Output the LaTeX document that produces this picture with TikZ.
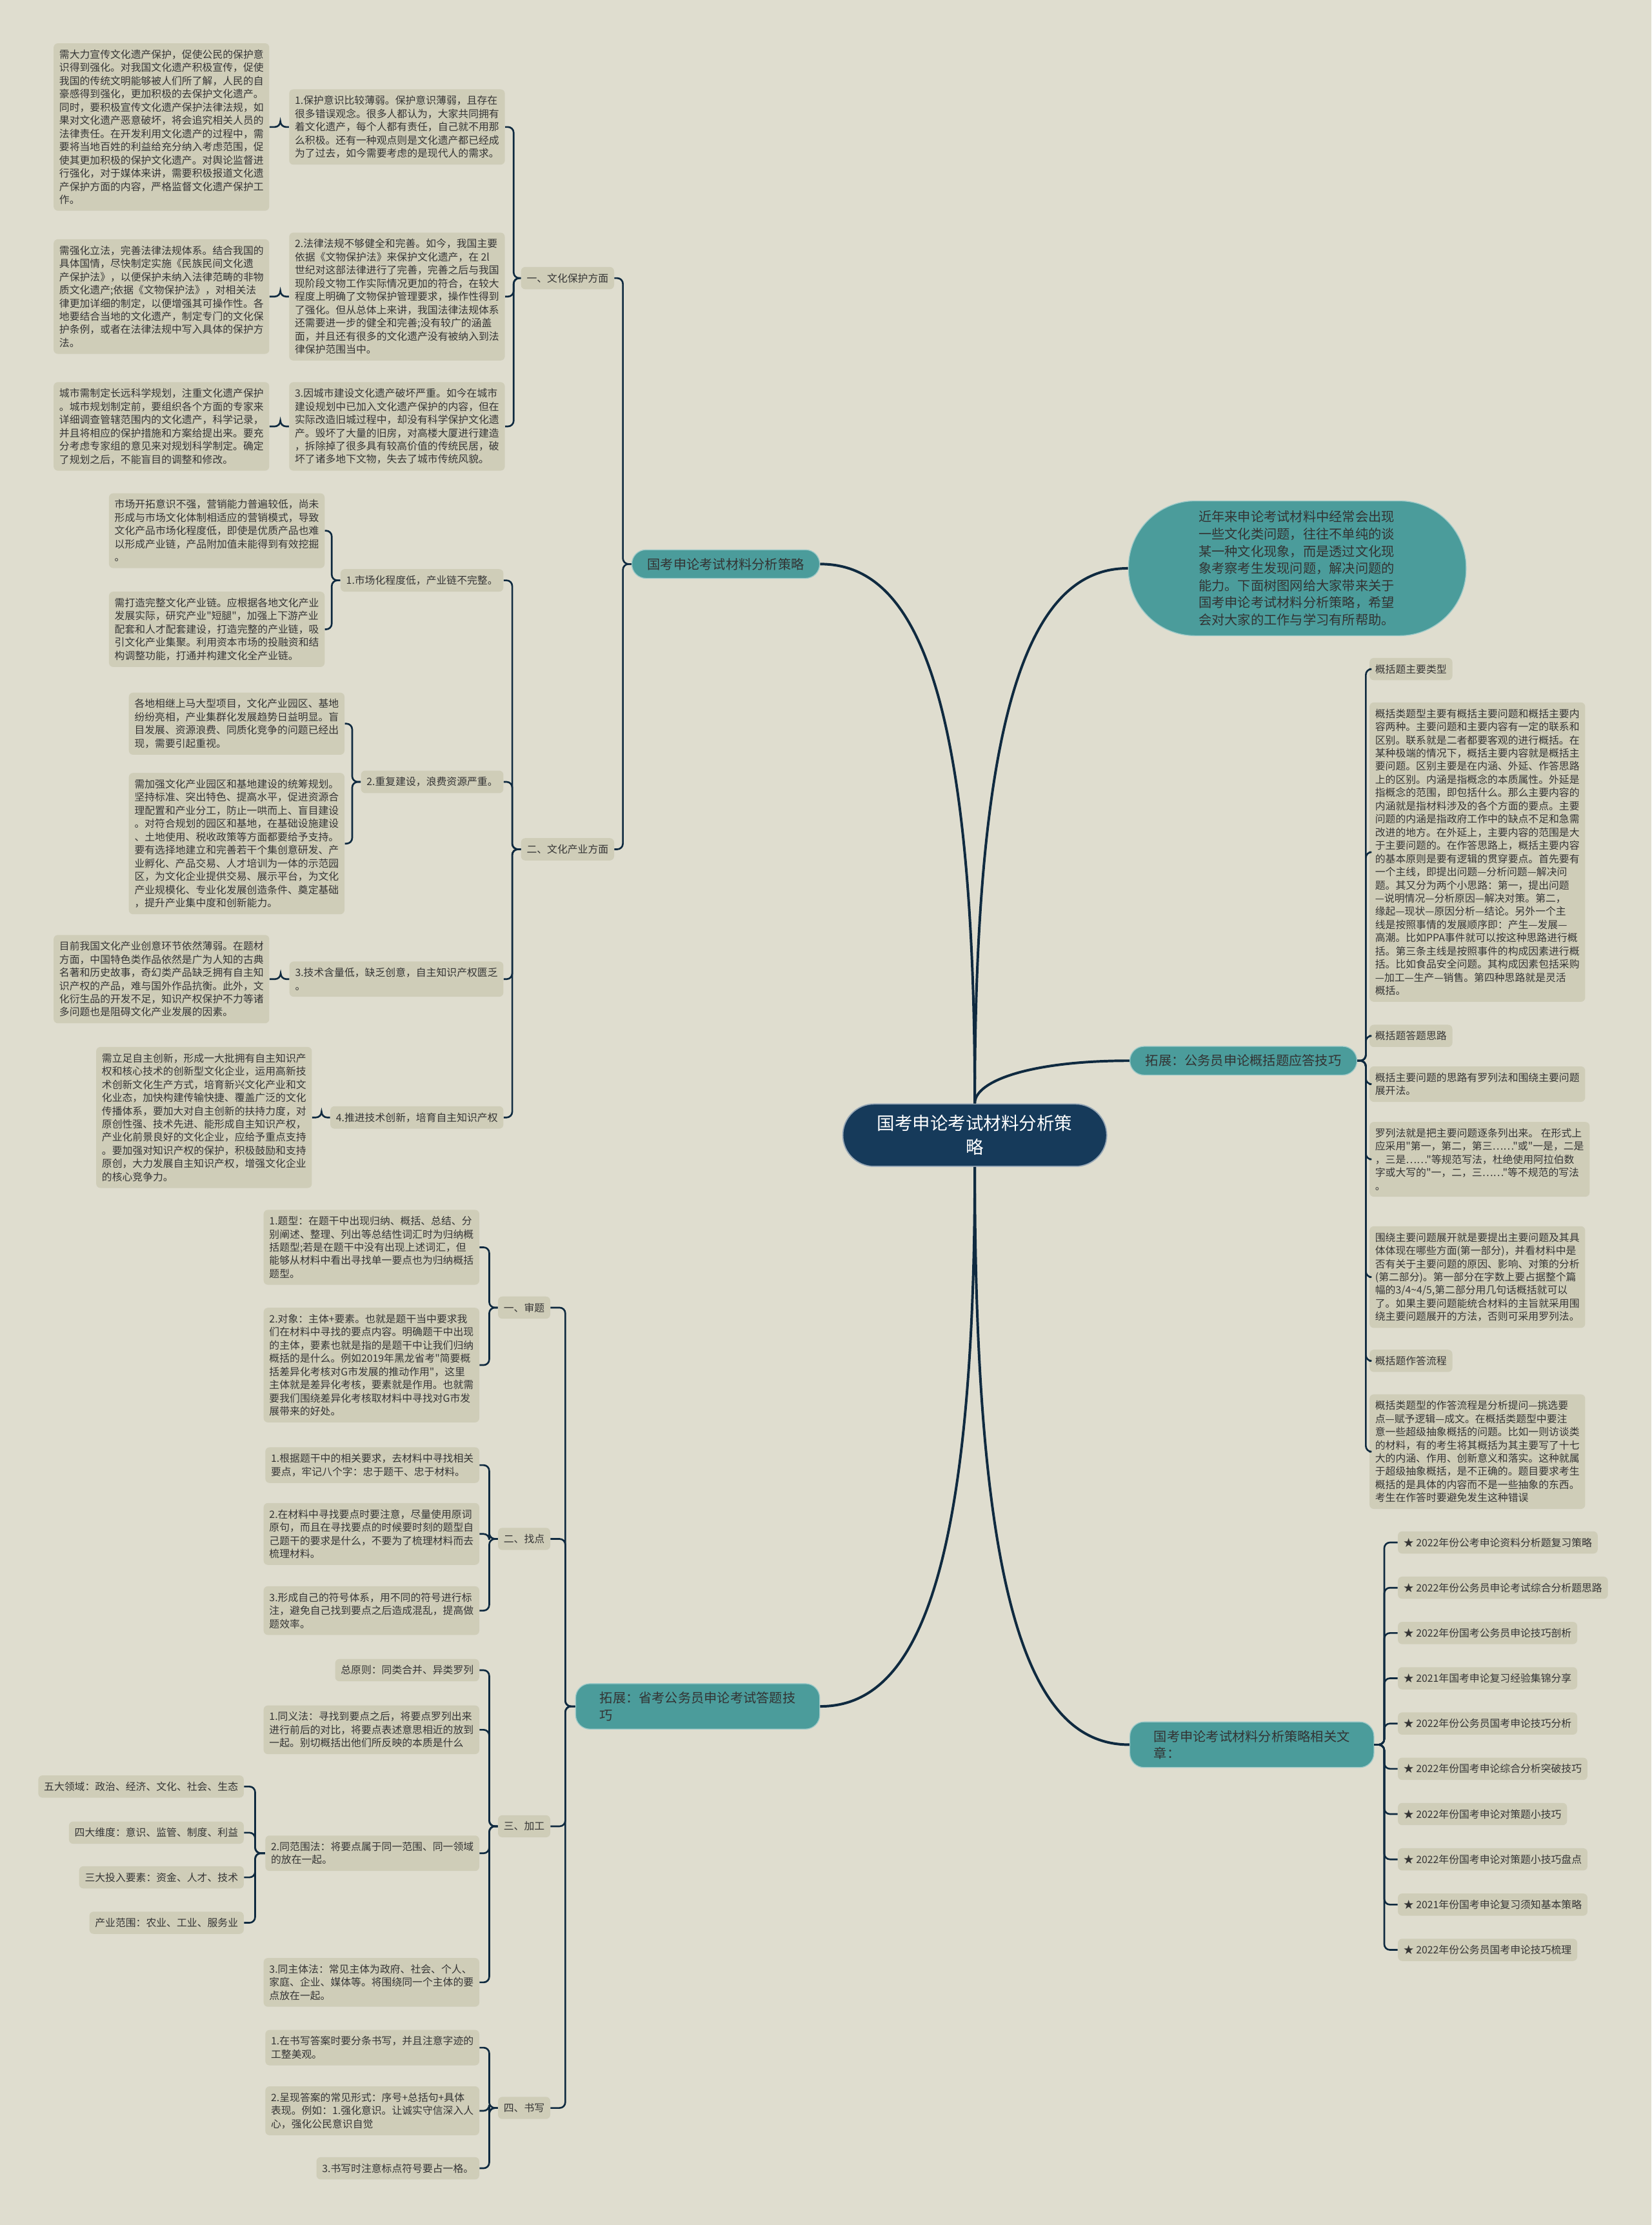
\documentclass[tikz,border=0pt]{standalone}
\usepackage{fontspec}
\setmainfont{Noto Sans CJK SC}[Ligatures=TeXOff]
\usepackage{tikz}
\usetikzlibrary{positioning,calc}
\definecolor{bgc}{HTML}{DFDDCF}
\definecolor{boxc}{HTML}{CFCDB8}
\definecolor{tealc}{HTML}{4B9C9B}
\definecolor{navyc}{HTML}{163A5A}
\definecolor{linec}{HTML}{0F2A40}
\definecolor{txtc}{HTML}{353535}

\begin{document}
\begin{tikzpicture}[x=1pt, y=-1pt,
    box/.style={fill=boxc, rounded corners=3pt, inner xsep=4pt, inner ysep=4.5pt, align=left, text=txtc, font=\fontsize{7.2}{9.3}\selectfont},
    branch/.style={fill=tealc, draw=white!45!tealc, line width=0.6pt, rounded corners=10pt, inner xsep=11pt, inner ysep=5.8pt, align=left, text=black!80, font=\fontsize{9.2}{12}\selectfont},
    ctrbox/.style={fill=navyc, draw=white!55!navyc, line width=0.8pt, rounded corners=22pt, text=white, align=center, minimum width=186pt, minimum height=44pt, font=\fontsize{12.5}{17}\selectfont},
    link/.style={draw=linec, line width=1.2pt, rounded corners=4pt},
    mainlink/.style={draw=linec, line width=1.8pt}]

    % Background
    \fill[bgc] (0,0) rectangle (1164,1568);
    \useasboundingbox (0,0) rectangle (1164,1568);

    % Centre
    \node[ctrbox] (ctr) at (687,800) {国考申论考试材料分析策\\略};

    % Main branches
    \node[branch, anchor=east] (mat) at (578,397.5) {国考申论考试材料分析策略};
    \node[branch, anchor=east, inner xsep=17pt] (prov) at (578,1202.5) {拓展：省考公务员申论考试答题技\\巧};
    \node[branch, anchor=west] (summ) at (796,747.5) {拓展：公务员申论概括题应答技巧};
    \node[branch, anchor=west, inner xsep=17pt] (rel) at (796,1229.5) {国考申论考试材料分析策略相关文\\章：};
    \node[fill=tealc, draw=white!45!tealc, line width=0.6pt, rounded corners=47pt, minimum width=238pt, minimum height=95pt, text width=139pt, align=left, text=black!80, font=\fontsize{9.2}{12.1}\selectfont, anchor=west] (intro) at (795,400.5) {近年来申论考试材料中经常会出现\\一些文化类问题，往往不单纯的谈\\某一种文化现象，而是透过文化现\\象考察考生发现问题，解决问题的\\能力。下面树图网给大家带来关于\\国考申论考试材料分析策略，希望\\会对大家的工作与学习有所帮助。};

    % One: culture protection
    \node[box, anchor=east] (prot) at (433,196) {一、文化保护方面};
    \node[box, anchor=east] (a1) at (356,89.5) {1.保护意识比较薄弱。保护意识薄弱，且存在\\很多错误观念。很多人都认为，大家共同拥有\\着文化遗产，每个人都有责任，自己就不用那\\么积极。还有一种观点则是文化遗产都已经成\\为了过去，如今需要考虑的是现代人的需求。};
    \node[box, anchor=east] (at1) at (190,89.5) {需大力宣传文化遗产保护，促使公民的保护意\\识得到强化。对我国文化遗产积极宣传，促使\\我国的传统文明能够被人们所了解，人民的自\\豪感得到强化，更加积极的去保护文化遗产。\\同时，要积极宣传文化遗产保护法律法规，如\\果对文化遗产恶意破坏，将会追究相关人员的\\法律责任。在开发利用文化遗产的过程中，需\\要将当地百姓的利益给充分纳入考虑范围，促\\使其更加积极的保护文化遗产。对舆论监督进\\行强化，对于媒体来讲，需要积极报道文化遗\\产保护方面的内容，严格监督文化遗产保护工\\作。};
    \node[box, anchor=east] (a2) at (356,209) {2.法律法规不够健全和完善。如今，我国主要\\依据《文物保护法》来保护文化遗产，在 2l\\世纪对这部法律进行了完善，完善之后与我国\\现阶段文物工作实际情况更加的符合，在较大\\程度上明确了文物保护管理要求，操作性得到\\了强化。但从总体上来讲，我国法律法规体系\\还需要进一步的健全和完善;没有较广的涵盖\\面，并且还有很多的文化遗产没有被纳入到法\\律保护范围当中。};
    \node[box, anchor=east] (at2) at (190,209) {需强化立法，完善法律法规体系。结合我国的\\具体国情，尽快制定实施《民族民间文化遗\\产保护法》，以便保护未纳入法律范畴的非物\\质文化遗产;依据《文物保护法》，对相关法\\律更加详细的制定，以便增强其可操作性。各\\地要结合当地的文化遗产，制定专门的文化保\\护条例，或者在法律法规中写入具体的保护方\\法。};
    \node[box, anchor=east] (a3) at (356,300.5) {3.因城市建设文化遗产破坏严重。如今在城市\\建设规划中已加入文化遗产保护的内容，但在\\实际改造旧城过程中，却没有科学保护文化遗\\产。毁坏了大量的旧房，对高楼大厦进行建造\\，拆除掉了很多具有较高价值的传统民居，破\\坏了诸多地下文物，失去了城市传统风貌。};
    \node[box, anchor=east] (at3) at (190,300.5) {城市需制定长远科学规划，注重文化遗产保护\\。城市规划制定前，要组织各个方面的专家来\\详细调查管辖范围内的文化遗产，科学记录，\\并且将相应的保护措施和方案给提出来。要充\\分考虑专家组的意见来对规划科学制定。确定\\了规划之后，不能盲目的调整和修改。};

    % Two: culture industry
    \node[box, anchor=east] (indu) at (433,598.5) {二、文化产业方面};
    \node[box, anchor=east] (b1) at (355,409) {1.市场化程度低，产业链不完整。};
    \node[box, anchor=east] (bt1) at (229,374) {市场开拓意识不强，营销能力普遍较低，尚未\\形成与市场文化体制相适应的营销模式，导致\\文化产品市场化程度低，即使是优质产品也难\\以形成产业链，产品附加值未能得到有效挖掘\\。};
    \node[box, anchor=east] (bt2) at (229,443.5) {需打造完整文化产业链。应根据各地文化产业\\发展实际，研究产业"短腿"，加强上下游产业\\配套和人才配套建设，打造完整的产业链，吸\\引文化产业集聚。利用资本市场的投融资和结\\构调整功能，打通并构建文化全产业链。};
    \node[box, anchor=east] (b2) at (355,551) {2.重复建设，浪费资源严重。};
    \node[box, anchor=east] (bt3) at (243,510) {各地相继上马大型项目，文化产业园区、基地\\纷纷亮相，产业集群化发展趋势日益明显。盲\\目发展、资源浪费、同质化竞争的问题已经出\\现，需要引起重视。};
    \node[box, anchor=east] (bt4) at (243,594.5) {需加强文化产业园区和基地建设的统筹规划。\\坚持标准、突出特色、提高水平，促进资源合\\理配置和产业分工，防止一哄而上、盲目建设\\。对符合规划的园区和基地，在基础设施建设\\、土地使用、税收政策等方面都要给予支持。\\要有选择地建立和完善若干个集创意研发、产\\业孵化、产品交易、人才培训为一体的示范园\\区，为文化企业提供交易、展示平台，为文化\\产业规模化、专业化发展创造条件、奠定基础\\，提升产业集中度和创新能力。};
    \node[box, anchor=east] (b3) at (355,690) {3.技术含量低，缺乏创意，自主知识产权匮乏\\。};
    \node[box, anchor=east] (bt5) at (190,690) {目前我国文化产业创意环节依然薄弱。在题材\\方面，中国特色类作品依然是广为人知的古典\\名著和历史故事，奇幻类产品缺乏拥有自主知\\识产权的产品，难与国外作品抗衡。此外，文\\化衍生品的开发不足，知识产权保护不力等诸\\多问题也是阻碍文化产业发展的因素。};
    \node[box, anchor=east] (b4) at (355,787.5) {4.推进技术创新，培育自主知识产权};
    \node[box, anchor=east] (bt6) at (220,787.5) {需立足自主创新，形成一大批拥有自主知识产\\权和核心技术的创新型文化企业，运用高新技\\术创新文化生产方式，培育新兴文化产业和文\\化业态，加快构建传输快捷、覆盖广泛的文化\\传播体系，要加大对自主创新的扶持力度，对\\原创性强、技术先进、能形成自主知识产权，\\产业化前景良好的文化企业，应给予重点支持\\。要加强对知识产权的保护，积极鼓励和支持\\原创，大力发展自主知识产权，增强文化企业\\的核心竞争力。};

    % Provincial exam: four steps
    \node[box, anchor=east] (shen) at (388,921.5) {一、审题};
    \node[box, anchor=east] (zhao) at (388,1084.5) {二、找点};
    \node[box, anchor=east] (jia) at (388,1287) {三、加工};
    \node[box, anchor=east] (shu) at (388,1485.5) {四、书写};

    \node[box, anchor=east] (c11) at (338,879) {1.题型：在题干中出现归纳、概括、总结、分\\别阐述、整理、列出等总结性词汇时为归纳概\\括题型;若是在题干中没有出现上述词汇，但\\能够从材料中看出寻找单一要点也为归纳概括\\题型。};
    \node[box, anchor=east] (c12) at (338,962) {2.对象：主体+要素。也就是题干当中要求我\\们在材料中寻找的要点内容。明确题干中出现\\的主体，要素也就是指的是题干中让我们归纳\\概括的是什么。例如2019年黑龙省考"简要概\\括差异化考核对G市发展的推动作用"，这里\\主体就是差异化考核，要素就是作用。也就需\\要我们围绕差异化考核取材料中寻找对G市发\\展带来的好处。};
    \node[box, anchor=east] (c21) at (338,1032.5) {1.根据题干中的相关要求，去材料中寻找相关\\要点，牢记八个字：忠于题干、忠于材料。};
    \node[box, anchor=east] (c22) at (338,1081) {2.在材料中寻找要点时要注意，尽量使用原词\\原句，而且在寻找要点的时候要时刻的题型自\\己题干的要求是什么，不要为了梳理材料而去\\梳理材料。};
    \node[box, anchor=east] (c23) at (338,1135) {3.形成自己的符号体系，用不同的符号进行标\\注，避免自己找到要点之后造成混乱，提高做\\题效率。};
    \node[box, anchor=east] (c30) at (338,1177) {总原则：同类合并、异类罗列};
    \node[box, anchor=east] (c31) at (338,1219) {1.同义法：寻找到要点之后，将要点罗列出来\\进行前后的对比，将要点表述意思相近的放到\\一起。别切概括出他们所反映的本质是什么};
    \node[box, anchor=east] (c32) at (338,1306) {2.同范围法：将要点属于同一范围、同一领域\\的放在一起。};
    \node[box, anchor=east] (c33) at (338,1397) {3.同主体法：常见主体为政府、社会、个人、\\家庭、企业、媒体等。将围绕同一个主体的要\\点放在一起。};
    \node[box, anchor=east] (d1) at (172,1259) {五大领域：政治、经济、文化、社会、生态};
    \node[box, anchor=east] (d2) at (172,1291.5) {四大维度：意识、监管、制度、利益};
    \node[box, anchor=east] (d3) at (172,1323) {三大投入要素：资金、人才、技术};
    \node[box, anchor=east] (d4) at (172,1355) {产业范围：农业、工业、服务业};
    \node[box, anchor=east] (c41) at (338,1443) {1.在书写答案时要分条书写，并且注意字迹的\\工整美观。};
    \node[box, anchor=east] (c42) at (338,1487.5) {2.呈现答案的常见形式：序号+总括句+具体\\表现。例如：1.强化意识。让诚实守信深入人\\心，强化公民意识自觉};
    \node[box, anchor=east] (c43) at (338,1528) {3.书写时注意标点符号要占一格。};

    % Summary questions
    \node[box, anchor=west] (s1) at (965,471.5) {概括题主要类型};
    \node[box, anchor=west] (s1t) at (965,600.5) {概括类题型主要有概括主要问题和概括主要内\\容两种。主要问题和主要内容有一定的联系和\\区别。联系就是二者都要客观的进行概括。在\\某种极端的情况下，概括主要内容就是概括主\\要问题。区别主要是在内涵、外延、作答思路\\上的区别。内涵是指概念的本质属性。外延是\\指概念的范围，即包括什么。那么主要内容的\\内涵就是指材料涉及的各个方面的要点。主要\\问题的内涵是指政府工作中的缺点不足和急需\\改进的地方。在外延上，主要内容的范围是大\\于主要问题的。在作答思路上，概括主要内容\\的基本原则是要有逻辑的贯穿要点。首先要有\\一个主线，即提出问题—分析问题—解决问\\题。其又分为两个小思路：第一，提出问题\\—说明情况—分析原因—解决对策。第二，\\缘起—现状—原因分析—结论。另外一个主\\线是按照事情的发展顺序即：产生—发展—\\高潮。比如PPA事件就可以按这种思路进行概\\括。第三条主线是按照事件的构成因素进行概\\括。比如食品安全问题。其构成因素包括采购\\—加工—生产—销售。第四种思路就是灵活\\概括。};
    \node[box, anchor=west] (s2) at (965,730) {概括题答题思路};
    \node[box, anchor=west] (s3) at (965,764) {概括主要问题的思路有罗列法和围绕主要问题\\展开法。};
    \node[box, anchor=west] (s4) at (965,817) {罗列法就是把主要问题逐条列出来。 在形式上\\应采用"第一，第二，第三……"或"一是，二是\\，三是……"等规范写法，杜绝使用阿拉伯数\\字或大写的"一，二，三……"等不规范的写法\\。};
    \node[box, anchor=west] (s5) at (965,900) {围绕主要问题展开就是要提出主要问题及其具\\体体现在哪些方面(第一部分)，并看材料中是\\否有关于主要问题的原因、影响、对策的分析\\(第二部分)。第一部分在字数上要占据整个篇\\幅的3/4\textasciitilde 4/5,第二部分用几句话概括就可以\\了。如果主要问题能统合材料的主旨就采用围\\绕主要问题展开的方法，否则可采用罗列法。};
    \node[box, anchor=west] (s6) at (965,959) {概括题作答流程};
    \node[box, anchor=west] (s7) at (965,1023) {概括类题型的作答流程是分析提问—挑选要\\点—赋予逻辑—成文。在概括类题型中要注\\意一些超级抽象概括的问题。比如一则访谈类\\的材料，有的考生将其概括为其主要写了十七\\大的内涵、作用、创新意义和落实。这种就属\\于超级抽象概括，是不正确的。题目要求考生\\概括的是具体的内容而不是一些抽象的东西。\\考生在作答时要避免发生这种错误};

    % Related articles
    \foreach \t [count=\i] in {2022年份公考申论资料分析题复习策略, 2022年份公务员申论考试综合分析题思路, 2022年份国考公务员申论技巧剖析, 2021年国考申论复习经验集锦分享, 2022年份公务员国考申论技巧分析, 2022年份国考申论综合分析突破技巧, 2022年份国考申论对策题小技巧, 2022年份国考申论对策题小技巧盘点, 2021年份国考申论复习须知基本策略, 2022年份公务员国考申论技巧梳理}
        \node[box, anchor=west] (k\i) at (985,1087+31.9*\i-31.9) {★ \t};

    % Main connectors
    \draw[mainlink] (ctr.north) .. controls ($(ctr.north |- mat.east)+(0,80)$) and ($(ctr.north |- mat.east)+(-45,0)$) .. (mat.east);
    \draw[mainlink] (ctr.north) .. controls ($(ctr.north |- intro.west)+(0,80)$) and ($(ctr.north |- intro.west)+(45,0)$) .. (intro.west);
    \draw[mainlink] (ctr.north) .. controls ($(ctr.north |- summ.west)+(0,14)$) and ($(ctr.north |- summ.west)+(40,0)$) .. (summ.west);
    \draw[mainlink] (ctr.south) .. controls ($(ctr.south |- prov.east)+(0,-80)$) and ($(ctr.south |- prov.east)+(-45,0)$) .. (prov.east);
    \draw[mainlink] (ctr.south) .. controls ($(ctr.south |- rel.west)+(0,-80)$) and ($(ctr.south |- rel.west)+(45,0)$) .. (rel.west);

    % Left brackets
    \foreach \c in {prot,indu} \draw[link] (mat.west) -- ++(-6,0) |- (\c.east);
    \foreach \c in {a1,a2,a3} \draw[link] (prot.west) -- ++(-5,0) |- (\c.east);
    \draw[link] (a1.west) -- ++(-6,0) |- (at1.east);
    \draw[link] (a2.west) -- ++(-6,0) |- (at2.east);
    \draw[link] (a3.west) -- ++(-6,0) |- (at3.east);
    \foreach \c in {b1,b2,b3,b4} \draw[link] (indu.west) -- ++(-6,0) |- (\c.east);
    \foreach \c in {bt1,bt2} \draw[link] (b1.west) -- ++(-6,0) |- (\c.east);
    \foreach \c in {bt3,bt4} \draw[link] (b2.west) -- ++(-6,0) |- (\c.east);
    \draw[link] (b3.west) -- ++(-6,0) |- (bt5.east);
    \draw[link] (b4.west) -- ++(-6,0) |- (bt6.east);

    \foreach \c in {shen,zhao,jia,shu} \draw[link] (prov.west) -- ++(-7,0) |- (\c.east);
    \foreach \c in {c11,c12} \draw[link] (shen.west) -- ++(-6,0) |- (\c.east);
    \foreach \c in {c21,c22,c23} \draw[link] (zhao.west) -- ++(-6,0) |- (\c.east);
    \foreach \c in {c30,c31,c32,c33} \draw[link] (jia.west) -- ++(-6,0) |- (\c.east);
    \foreach \c in {d1,d2,d3,d4} \draw[link] (c32.west) -- ++(-7,0) |- (\c.east);
    \foreach \c in {c41,c42,c43} \draw[link] (shu.west) -- ++(-6,0) |- (\c.east);

    % Right brackets
    \foreach \c in {s1,s1t,s2,s3,s4,s5,s6,s7} \draw[link] (summ.east) -- ++(6,0) |- (\c.west);
    \foreach \i in {1,...,10} \draw[link] (rel.east) -- ++(7,0) |- (k\i.west);
\end{tikzpicture}
\end{document}
